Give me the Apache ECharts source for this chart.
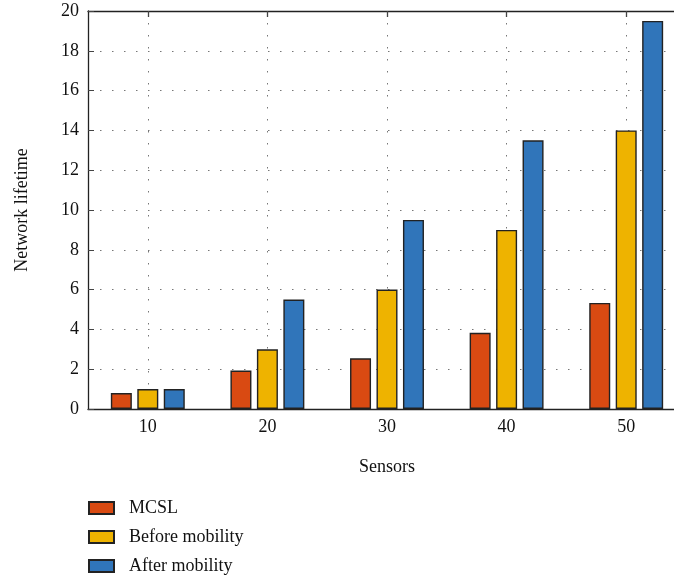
<!DOCTYPE html>
<html><head><meta charset="utf-8">
<script src="https://cdn.jsdelivr.net/npm/echarts@6/dist/echarts.min.js"></script>
<style>html,body{margin:0;padding:0;background:#fff}#c{width:674px;height:579px}</style>
</head><body><div id="c"></div>
<script>
const categories = ['10', '20', '30', '40', '50'];
const mcsl = [0.8, 1.93, 2.55, 3.83, 5.33];
const beforeMobility = [1, 3, 6, 9, 14];
const afterMobility = [1, 5.5, 9.5, 13.5, 19.5];
const seriesNames = ['MCSL', 'Before mobility', 'After mobility'];
const colors = ['#D94A12', '#EEB300', '#3075BA'];

const font = '"Liberation Serif", "DejaVu Serif", serif';
const chart = echarts.init(document.getElementById('c'));
const barStyle = (c) => ({ color: c, borderColor: '#222', borderWidth: 1.4 });
chart.setOption({
  animation: false,
  color: colors,
  textStyle: { fontFamily: font },
  grid: { left: 88, top: 11, width: 598, bottom: 170, outerBoundsMode: 'none', containLabel: false },
  legend: {
    orient: 'vertical', left: 88, top: 499, padding: 0,
    itemWidth: 25, itemHeight: 12, itemGap: 11,
    icon: 'rect',
    textStyle: { fontFamily: font, fontSize: 18, color: '#111', padding: [0, 0, 0, 10] },
    data: seriesNames
  },
  xAxis: [{
    type: 'category', data: categories, position: 'bottom',
    name: 'Sensors', nameLocation: 'middle', nameGap: 49,
    nameTextStyle: { fontFamily: font, fontSize: 18, color: '#111' },
    axisLine: { lineStyle: { color: '#222', width: 1.3 } },
    axisTick: { show: true, inside: true, length: 6, alignWithLabel: true, lineStyle: { color: '#444' } },
    axisLabel: { fontFamily: font, fontSize: 18, color: '#111', margin: 9 },
    splitLine: { show: true, alignWithLabel: true, lineStyle: { color: '#777', type: [1.5, 10.5], width: 1 } }
  }, {
    type: 'category', data: categories, position: 'top',
    axisLine: { lineStyle: { color: '#222', width: 1.3 } },
    axisTick: { show: true, inside: true, length: 6, alignWithLabel: true, lineStyle: { color: '#444', width: 1.3 } },
    axisLabel: { show: false },
    splitLine: { show: false }
  }],
  yAxis: {
    type: 'value', min: 0, max: 20, interval: 2,
    name: 'Network lifetime', nameLocation: 'middle', nameGap: 57,
    nameTextStyle: { fontFamily: font, fontSize: 18, color: '#111' },
    axisLine: { show: true, lineStyle: { color: '#222', width: 1.3 } },
    axisTick: { show: true, inside: true, length: 6, lineStyle: { color: '#444' } },
    axisLabel: { fontFamily: font, fontSize: 18, color: '#111', margin: 9 },
    splitLine: { show: true, lineStyle: { color: '#777', type: [1.5, 10.5], width: 1 } }
  },
  series: [
    { name: seriesNames[0], type: 'bar', data: mcsl, barWidth: 21, barGap: '26%', itemStyle: barStyle(colors[0]) },
    { name: seriesNames[1], type: 'bar', data: beforeMobility, barWidth: 21, barGap: '26%', itemStyle: barStyle(colors[1]) },
    { name: seriesNames[2], type: 'bar', data: afterMobility, barWidth: 21, barGap: '26%', itemStyle: barStyle(colors[2]) }
  ]
});
</script></body></html>
